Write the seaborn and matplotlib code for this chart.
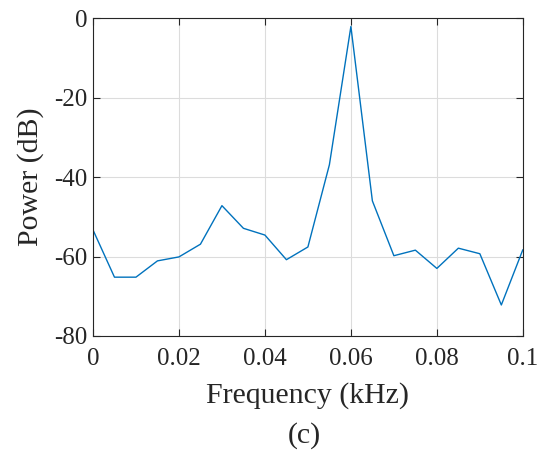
import matplotlib
matplotlib.use("Agg")
import matplotlib.pyplot as plt
import seaborn as sns
import numpy as np
import pandas as pd

freq = [0.000, 0.005, 0.010, 0.015, 0.020, 0.025, 0.030, 0.035, 0.040, 0.045,
        0.050, 0.055, 0.060, 0.065, 0.070, 0.075, 0.080, 0.085, 0.090, 0.095, 0.100]
power = [-53.3, -65.2, -65.2, -61.1, -60.1, -56.9, -47.2, -52.9, -54.6, -60.8,
         -57.6, -36.9, -2.1, -46.0, -59.8, -58.4, -63.0, -57.9, -59.3, -72.2, -58.3]
xticks = [0, 0.02, 0.04, 0.06, 0.08, 0.1]
xticklabels = ["0", "0.02", "0.04", "0.06", "0.08", "0.1"]
yticks = [-80, -60, -40, -20, 0]
yticklabels = ["-80", "-60", "-40", "-20", "0"]

sns.set_theme(style="white")
plt.rcParams['font.family'] = ['Liberation Serif', 'DejaVu Serif']
plt.rcParams['mathtext.fontset'] = 'stix'

df = pd.DataFrame({"Frequency": freq, "Power": power})

fig = plt.figure(figsize=(5.39, 4.54), dpi=100)
ax = fig.add_axes([0.1725, 0.26, 0.7975, 0.70])
sns.lineplot(data=df, x="Frequency", y="Power", ax=ax, color="#0072BD", linewidth=1.0)

ax.set_xlim(0, 0.1)
ax.set_ylim(-80, 0)
ax.set_xticks(xticks)
ax.set_xticklabels(xticklabels)
ax.set_yticks(yticks)
ax.set_yticklabels(yticklabels)
ax.grid(True, color="#dcdcdc", linewidth=0.8)
ax.tick_params(direction="in", length=5, width=0.8, colors="#262626", labelsize=18,
               top=True, right=True, bottom=True, left=True, pad=4)
ax.tick_params(axis="x", pad=8.5)
for s in ax.spines.values():
    s.set_visible(True)
    s.set_color("#262626")
    s.set_linewidth(0.8)
ax.set_xlabel("Frequency (kHz)", fontsize=21.5, color="#262626", labelpad=9)
ax.set_ylabel("Power (dB)", fontsize=21.5, color="#262626", labelpad=7)
fig.text(0.5638, 0.04, "(c)", ha="center", va="center", fontsize=21.5, color="#262626")

fig.savefig("out.png", dpi=100)
